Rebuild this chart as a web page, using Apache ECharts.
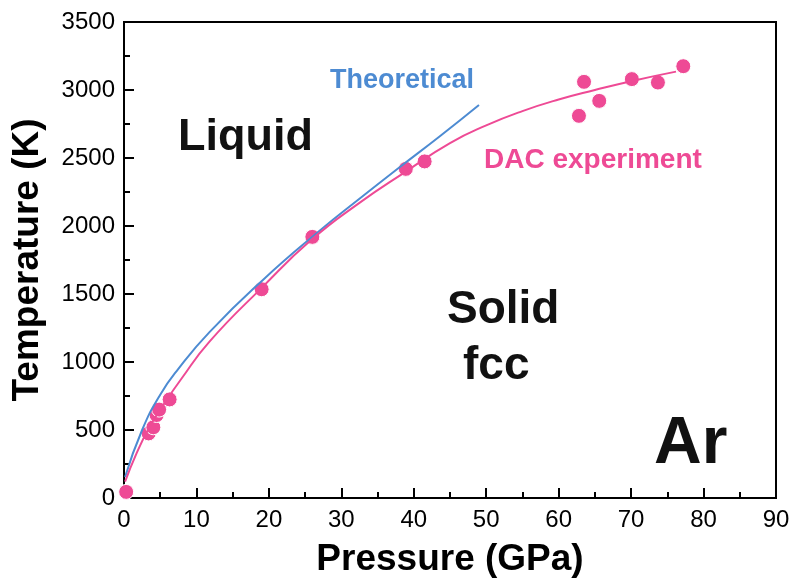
<!DOCTYPE html>
<html>
<head>
<meta charset="utf-8">
<title>Ar melting curve</title>
<script src="https://cdn.jsdelivr.net/npm/echarts@6/dist/echarts.min.js"></script>
<style>
  html, body {margin: 0; padding: 0; background: #fff;}
  #main {width: 793px; height: 583px;}
</style>
</head>
<body>
<div id="main"></div>
<script>
// DAC experiment points (GPa, K)
var dacP = [0.3, 3.4, 4.05, 4.5, 4.85, 6.3, 19, 26, 38.9, 41.5, 62.8, 63.5, 65.6, 70.1, 73.7, 77.2];
var dacT = [45, 475, 520, 610, 650, 725, 1535, 1920, 2420, 2475, 2810, 3060, 2920, 3080, 3055, 3175];

// fitted curve through the DAC data
var fitP = [0.15, 1.7, 3.5, 5.5, 7.9, 11.8, 19, 25.9, 32.5, 38.9, 45, 50, 55, 60, 65, 70, 76.2];
var fitT = [120, 325, 520, 690, 875, 1150, 1545, 1900, 2170, 2400, 2610, 2740, 2845, 2930, 3000, 3065, 3135];

// theoretical curve
var theoP = [0.15, 2.5, 5, 7.5, 11.8, 19.1, 27, 32.5, 38, 43.6, 49];
var theoT = [155, 500, 760, 950, 1220, 1600, 1965, 2200, 2430, 2660, 2890];

var pink = '#ee4a95', blue = '#4d8bd2';
var font = 'Liberation Sans, Arial, Helvetica, sans-serif';

function pairs(xs, ys) {
  return xs.map(function (x, i) { return [x, ys[i]]; });
}

var chart = echarts.init(document.getElementById('main'));

var axisCommon = {
  axisLine: {lineStyle: {color: '#000', width: 2}},
  axisTick: {inside: true, length: 10, lineStyle: {color: '#000', width: 2}},
  minorTick: {show: true, splitNumber: 2, length: 6, lineStyle: {color: '#000', width: 2}},
  splitLine: {show: false},
  axisLabel: {color: '#000', fontSize: 24, fontFamily: font, formatter: function (v) { return String(v); }},
  nameLocation: 'middle',
  nameTextStyle: {color: '#000', fontSize: 37, fontWeight: 'bold', fontFamily: font}
};

chart.setOption({
  animation: false,
  grid: {left: 124, right: 17, top: 22, bottom: 84, show: true, borderColor: '#000', borderWidth: 2},
  xAxis: Object.assign({}, axisCommon, {
    type: 'value', min: 0, max: 90, interval: 10,
    name: 'Pressure (GPa)', nameGap: 43,
    axisLabel: Object.assign({}, axisCommon.axisLabel, {margin: 10})
  }),
  yAxis: Object.assign({}, axisCommon, {
    type: 'value', min: 0, max: 3500, interval: 500,
    name: 'Temperature (K)', nameGap: 78,
    axisLabel: Object.assign({}, axisCommon.axisLabel, {margin: 9})
  }),
  series: [
    {
      name: 'Theoretical', type: 'line', smooth: true, symbol: 'none',
      data: pairs(theoP, theoT),
      lineStyle: {color: blue, width: 2}
    },
    {
      name: 'DAC fit', type: 'line', smooth: true, symbol: 'none',
      data: pairs(fitP, fitT),
      lineStyle: {color: pink, width: 2}
    },
    {
      name: 'DAC experiment', type: 'scatter', symbolSize: 15,
      data: pairs(dacP, dacT),
      itemStyle: {color: pink, borderColor: '#fff', borderWidth: 1, opacity: 1}
    }
  ],
  graphic: [
    {type: 'text', left: 330, top: 67, style: {text: 'Theoretical', fill: blue, font: 'bold 27px ' + font}},
    {type: 'text', left: 484, top: 146, style: {text: 'DAC experiment', fill: pink, font: 'bold 28px ' + font}},
    {type: 'text', left: 178, top: 115, style: {text: 'Liquid', fill: '#111', font: 'bold 45px ' + font}},
    {type: 'text', left: 447, top: 287, style: {text: 'Solid', fill: '#111', font: 'bold 46px ' + font}},
    {type: 'text', left: 463, top: 343, style: {text: 'fcc', fill: '#111', font: 'bold 46px ' + font}},
    {type: 'text', left: 654, top: 412, style: {text: 'Ar', fill: '#111', font: 'bold 66px ' + font}}
  ]
});
</script>
</body>
</html>
